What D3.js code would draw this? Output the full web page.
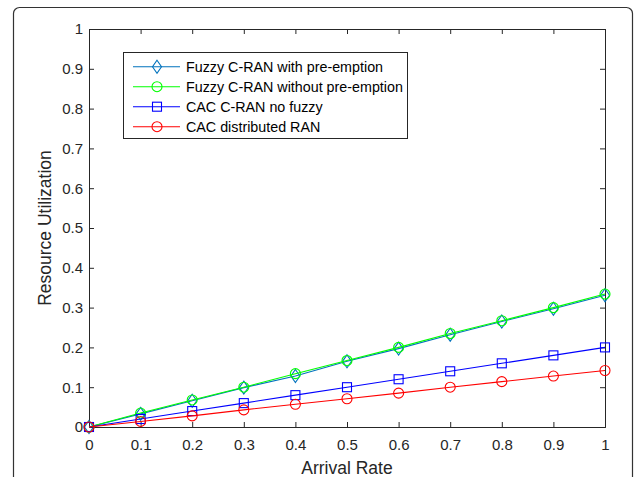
<!DOCTYPE html>
<html>
<head>
<meta charset="utf-8">
<script src="https://cdn.jsdelivr.net/npm/d3@7"></script>
<style>
body { margin: 0; background: #fff; }
svg { display: block; font-family: "Liberation Sans", Arial, sans-serif; }
</style>
</head>
<body>
<svg id="chart"></svg>
<script>
// arrival rate on x
var arrivalRate = [0, 0.1, 0.2, 0.3, 0.4, 0.5, 0.6, 0.7, 0.8, 0.9, 1];

// resource utilization per scheme
var fuzzyPreempt   = [0, 0.033, 0.066, 0.099, 0.128, 0.165, 0.197, 0.232, 0.265, 0.297, 0.331];
var fuzzyNoPreempt = [0, 0.035, 0.068, 0.100, 0.134, 0.167, 0.200, 0.235, 0.267, 0.300, 0.334];
var cacCran        = [0, 0.020, 0.040, 0.060, 0.080, 0.100, 0.120, 0.140, 0.160, 0.180, 0.200];
var cacDist        = [0, 0.014, 0.028, 0.043, 0.057, 0.071, 0.085, 0.100, 0.114, 0.128, 0.142];

var seriesNames = ["Fuzzy C-RAN with pre-emption", "Fuzzy C-RAN without pre-emption", "CAC C-RAN no fuzzy", "CAC distributed RAN"];

var xTicks = [0, 0.1, 0.2, 0.3, 0.4, 0.5, 0.6, 0.7, 0.8, 0.9, 1];
var yTicks = [0, 0.1, 0.2, 0.3, 0.4, 0.5, 0.6, 0.7, 0.8, 0.9, 1];

var series = [
	{name: seriesNames[0], values: fuzzyPreempt, color: "#0072BD", marker: "diamond"},
	{name: seriesNames[1], values: fuzzyNoPreempt, color: "#00FF00", marker: "circle"},
	{name: seriesNames[2], values: cacCran, color: "#0000FF", marker: "square"},
	{name: seriesNames[3], values: cacDist, color: "#FF0000", marker: "circle"}
];

var chart_width = 637, chart_height = 477;
var plotLeft = 89, plotRight = 605, plotTop = 29, plotBottom = 427;
var axisColor = "#262626";

var svg = d3.select("#chart").attr("width", chart_width).attr("height", chart_height);

// rounded outer frame (bottom runs off the picture)
svg.append("rect")
	.attr("x", 13.5).attr("y", 7.5)
	.attr("width", 619).attr("height", 500)
	.attr("rx", 6)
	.attr("fill", "none")
	.attr("stroke", "#333")
	.attr("stroke-width", 1.2);

var x = d3.scaleLinear().domain([0, 1]).range([plotLeft, plotRight]);
var y = d3.scaleLinear().domain([0, 1]).range([plotBottom, plotTop]);

// axes, matlab style: ticks inside, box all round
svg.append("g")
	.attr("transform", "translate(0," + plotBottom + ")")
	.call(d3.axisBottom(x).tickValues(xTicks).tickSize(-5).tickPadding(12).tickFormat(d3.format("")));
svg.append("g")
	.attr("transform", "translate(" + plotLeft + ",0)")
	.call(d3.axisLeft(y).tickValues(yTicks).tickSize(-5).tickPadding(6).tickFormat(d3.format("")));
svg.append("g")
	.attr("transform", "translate(0," + plotTop + ")")
	.call(d3.axisTop(x).tickValues(xTicks).tickSize(-5).tickFormat(""));
svg.append("g")
	.attr("transform", "translate(" + plotRight + ",0)")
	.call(d3.axisRight(y).tickValues(yTicks).tickSize(-5).tickFormat(""));

svg.selectAll(".domain, .tick line").attr("stroke", axisColor).attr("stroke-width", 1);
svg.selectAll(".tick text").attr("fill", axisColor).style("font-size", "15px").style("font-family", "Liberation Sans, Arial, sans-serif");

// axis titles
svg.append("text")
	.attr("x", (plotLeft + plotRight) / 2).attr("y", 474)
	.attr("text-anchor", "middle")
	.attr("fill", axisColor)
	.style("font-size", "17.5px")
	.text("Arrival Rate");

svg.append("text")
	.attr("transform", "translate(51,228) rotate(-90)")
	.attr("text-anchor", "middle")
	.attr("fill", axisColor)
	.style("font-size", "17.5px")
	.text("Resource Utilization");

function drawMarker(g, type, color) {
	if (type == "diamond") {
		g.append("path").attr("d", "M0,-6.5 L4.5,0 L0,6.5 L-4.5,0 Z");
	} else if (type == "square") {
		g.append("rect").attr("x", -4.5).attr("y", -4.5).attr("width", 9).attr("height", 9);
	} else {
		g.append("circle").attr("r", 5);
	}
	g.selectAll("*").attr("fill", "none").attr("stroke", color).attr("stroke-width", 1.1);
}

var line = d3.line()
	.x(function(d, i) { return x(arrivalRate[i]); })
	.y(function(d) { return y(d); });

series.forEach(function(s) {
	svg.append("path")
		.attr("d", line(s.values))
		.attr("fill", "none")
		.attr("stroke", s.color)
		.attr("stroke-width", 1.1);
	s.values.forEach(function(v, i) {
		var g = svg.append("g").attr("transform", "translate(" + x(arrivalRate[i]) + "," + y(v) + ")");
		drawMarker(g, s.marker, s.color);
	});
});

// legend
var legend = svg.append("g");
legend.append("rect")
	.attr("x", 123.5).attr("y", 52.5)
	.attr("width", 284).attr("height", 86)
	.attr("fill", "#fff")
	.attr("stroke", axisColor)
	.attr("stroke-width", 1);

series.forEach(function(s, i) {
	var ly = 66.7 + i * 20;
	legend.append("line")
		.attr("x1", 133).attr("x2", 180)
		.attr("y1", ly).attr("y2", ly)
		.attr("stroke", s.color).attr("stroke-width", 1.1);
	drawMarker(legend.append("g").attr("transform", "translate(157," + ly + ")"), s.marker, s.color);
	legend.append("text")
		.attr("x", 186).attr("y", ly + 5)
		.attr("fill", "#000")
		.style("font-size", "14.3px")
		.text(s.name);
});
</script>
</body>
</html>
